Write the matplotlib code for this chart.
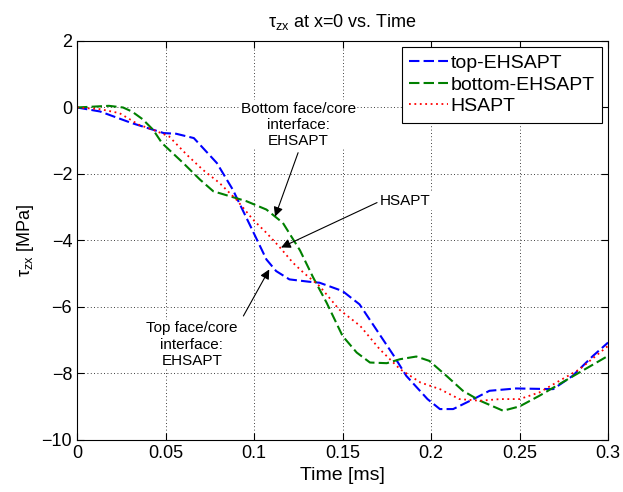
import numpy as np
import matplotlib
matplotlib.use('Agg')
import matplotlib.pyplot as plt

plt.rcParams['font.family'] = ['Liberation Sans', 'DejaVu Sans']
plt.rcParams['mathtext.fontset'] = 'custom'
plt.rcParams['mathtext.rm'] = 'Liberation Sans'
plt.rcParams['mathtext.it'] = 'Liberation Sans'

# top face/core interface, EHSAPT
t_top = [0, 0.013, 0.031, 0.049, 0.056, 0.066, 0.079, 0.088, 0.098, 0.107, 0.1125,
         0.12, 0.131, 0.137, 0.150, 0.1596, 0.169, 0.179, 0.186, 0.198, 0.205, 0.2125,
         0.224, 0.233, 0.248, 0.269, 0.28, 0.2915, 0.3]
v_top = [0, -0.12, -0.47, -0.77, -0.79, -0.92, -1.67, -2.47, -3.57, -4.57, -4.92,
         -5.17, -5.24, -5.27, -5.52, -5.92, -6.67, -7.47, -8.07, -8.77, -9.07, -9.07,
         -8.77, -8.52, -8.45, -8.47, -8.07, -7.47, -7.07]

# bottom face/core interface, EHSAPT
t_bot = [0, 0.018, 0.026, 0.031, 0.037, 0.043, 0.048, 0.060, 0.0695, 0.077, 0.0864,
         0.0958, 0.107, 0.1163, 0.126, 0.1333, 0.141, 0.150, 0.158, 0.1655, 0.175,
         0.1825, 0.1917, 0.199, 0.2087, 0.218, 0.2277, 0.2407, 0.25, 0.2612, 0.2725,
         0.2838, 0.3]
v_bot = [0, 0.05, 0.0, -0.12, -0.35, -0.67, -1.07, -1.67, -2.17, -2.52, -2.67,
         -2.82, -3.07, -3.47, -4.3, -5.1, -5.87, -6.87, -7.37, -7.67, -7.69,
         -7.57, -7.49, -7.62, -8.07, -8.52, -8.82, -9.12, -8.99, -8.67, -8.32,
         -7.97, -7.47]

# HSAPT
t_hs = [0, 0.013, 0.024, 0.035, 0.043, 0.052, 0.062, 0.071, 0.0805, 0.09, 0.0994,
        0.107, 0.114, 0.122, 0.128, 0.137, 0.148, 0.16, 0.171, 0.1825, 0.194, 0.205,
        0.216, 0.2277, 0.239, 0.25, 0.2612, 0.2725, 0.284, 0.3]
v_hs = [0, -0.05, -0.17, -0.52, -0.67, -0.87, -1.42, -1.87, -2.27, -2.77, -3.37,
        -3.77, -4.17, -4.67, -4.97, -5.37, -6.07, -6.57, -7.27, -7.87, -8.27, -8.47,
        -8.77, -8.82, -8.77, -8.77, -8.57, -8.22, -7.87, -7.17]

fig = plt.figure(figsize=(6.23, 4.92), dpi=100)
ax = fig.add_axes([0.1236, 0.1057, 0.8524, 0.811])

ax.plot(t_top, v_top, color='#0000ff', lw=1.5, ls=(0, (5, 2)), label='top-EHSAPT')
ax.plot(t_bot, v_bot, color='#008000', lw=1.5, ls=(0, (5, 2)), label='bottom-EHSAPT')
ax.plot(t_hs, v_hs, color='#ff0000', lw=1.3, ls=(0, (1, 2)), label='HSAPT')

ax.set_xlim(0, 0.3)
ax.set_ylim(-10, 2)
ax.set_xticks(np.arange(0, 0.31, 0.05))
ax.set_xticklabels(['0', '0.05', '0.1', '0.15', '0.2', '0.25', '0.3'])
ax.set_yticks(np.arange(-10, 3, 2))
ax.grid(True, color='black', ls=(0, (1, 3)), lw=0.6)
ax.tick_params(direction='in', top=True, right=True, labelsize=13, length=5, width=0.8)
for s in ax.spines.values():
    s.set_linewidth(0.8)

ax.set_title(r'$\tau_{\mathrm{zx}}$ at x=0 vs. Time', fontsize=13, pad=10)
ax.set_xlabel('Time [ms]', fontsize=14)
ax.set_ylabel(r'$\tau_{\mathrm{zx}}$ [MPa]', fontsize=13)

leg = ax.legend(loc='upper right', fontsize=14, fancybox=False, framealpha=1,
                edgecolor='black', borderaxespad=0.3, handlelength=2.0,
                handletextpad=0.1, labelspacing=0.2)
leg.get_frame().set_linewidth(0.8)

box = dict(facecolor='white', edgecolor='none', pad=1)
ax.text(0.1249, -0.52, 'Bottom face/core\ninterface:\nEHSAPT', ha='center', va='center',
        fontsize=11, bbox=box, linespacing=1.2)
ax.text(0.1853, -2.82, 'HSAPT', ha='center', va='center', fontsize=11, bbox=box)
ax.text(0.0648, -7.13, 'Top face/core\ninterface:\nEHSAPT', ha='center', va='center',
        fontsize=11, bbox=box, linespacing=1.2)

arw = dict(arrowstyle='-|>', color='black', lw=0.8, mutation_scale=14, shrinkA=0, shrinkB=0)
ax.annotate('', xy=(0.1119, -3.28), xytext=(0.1249, -1.36), arrowprops=arw)
ax.annotate('', xy=(0.1153, -4.21), xytext=(0.1695, -2.86), arrowprops=arw)
ax.annotate('', xy=(0.1086, -4.87), xytext=(0.094, -6.27), arrowprops=arw)

fig.savefig('out.png', dpi=100)
